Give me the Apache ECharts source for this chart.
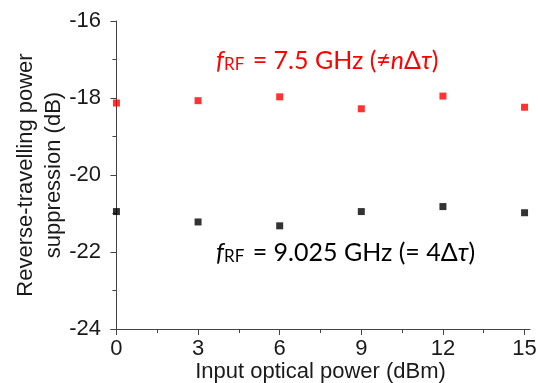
<!DOCTYPE html>
<html>
<head>
<meta charset="utf-8">
<script src="https://cdn.jsdelivr.net/npm/echarts@6/dist/echarts.min.js"></script>
<style>
  html, body { margin: 0; padding: 0; background: #fff; }
  #chart { width: 538px; height: 383px; }
</style>
</head>
<body>
<div id="chart"></div>
<script>
const inputPower = [0, 3, 6, 9, 12, 15]
const supp75 = [-18.13, -18.07, -17.97, -18.28, -17.95, -18.24]
const supp9025 = [-20.95, -21.22, -21.32, -20.95, -20.82, -20.98]
const xTicks = [0, 3, 6, 9, 12, 15]
const xMinorTicks = [1.5, 4.5, 7.5, 10.5, 13.5]

const axisColor = '#444'
const labelColor = '#1a1a1a'
const labelFont = 'Liberation Sans, Arial, sans-serif'
const annoFont = 'Lato, Open Sans, sans-serif'

const chart = echarts.init(document.getElementById('chart'))

const annoRich = (fill) => ({
  t: { fontFamily: annoFont, fontSize: 25, fill },
  f: { fontFamily: annoFont, fontSize: 25, fontStyle: 'italic', fill },
  sub: { fontFamily: annoFont, fontSize: 17, fill, padding: [9, 2, 0, 0] },
  i: { fontFamily: annoFont, fontSize: 25, fontStyle: 'italic', fill },
})

chart.setOption({
  animation: false,
  grid: { left: 111, right: 8, top: 21, bottom: 54, outerBoundsMode: 'none' },
  xAxis: [
    {
      type: 'value',
      min: -0.2,
      max: 15.2,
      splitLine: { show: false },
      axisLine: { lineStyle: { color: axisColor, width: 1 } },
      axisTick: { customValues: xTicks, length: 6, lineStyle: { color: axisColor } },
      axisLabel: {
        customValues: xTicks,
        color: labelColor,
        fontSize: 22,
        fontFamily: labelFont,
        margin: 9,
      },
      name: 'Input optical power (dBm)',
      nameLocation: 'middle',
      nameGap: 32,
      nameMoveOverlap: false,
      nameTextStyle: { color: labelColor, fontSize: 22, fontFamily: labelFont },
    },
    {
      type: 'value',
      position: 'bottom',
      min: -0.2,
      max: 15.2,
      splitLine: { show: false },
      axisLine: { show: false },
      axisTick: { customValues: xMinorTicks, length: 4, lineStyle: { color: axisColor } },
      axisLabel: { show: false },
    },
  ],
  yAxis: {
    type: 'value',
    min: -24,
    max: -16,
    interval: 2,
    splitLine: { show: false },
    axisLine: { show: true, lineStyle: { color: axisColor, width: 1 } },
    axisTick: { show: true, length: 6, lineStyle: { color: axisColor } },
    minorTick: { show: true, splitNumber: 2, length: 4, lineStyle: { color: axisColor } },
    axisLabel: { color: labelColor, fontSize: 22, fontFamily: labelFont, margin: 10 },
    name: 'Reverse-travelling power\nsuppression (dB)',
    nameLocation: 'middle',
    nameGap: 43,
    nameMoveOverlap: false,
    nameTextStyle: { color: labelColor, fontSize: 22, fontFamily: labelFont, lineHeight: 28 },
  },
  series: [
    {
      name: '7.5 GHz',
      type: 'scatter',
      symbol: 'rect',
      symbolSize: 7,
      itemStyle: { color: '#ff0000' },
      data: inputPower.map((x, i) => [x, supp75[i]]),
    },
    {
      name: '9.025 GHz',
      type: 'scatter',
      symbol: 'rect',
      symbolSize: 7,
      itemStyle: { color: '#000' },
      data: inputPower.map((x, i) => [x, supp9025[i]]),
    },
  ],
  graphic: [
    {
      type: 'text',
      left: 216,
      top: 48,
      style: {
        text: '{f|f}{sub|RF}{t| = 7.5 GHz (≠}{i|n}{t|Δ}{i|τ}{t|)}',
        rich: annoRich('#ff0000'),
      },
    },
    {
      type: 'text',
      left: 216,
      top: 240,
      style: {
        text: '{f|f}{sub|RF}{t| = 9.025 GHz (= 4Δ}{i|τ}{t|)}',
        rich: annoRich('#000'),
      },
    },
  ],
})
</script>
</body>
</html>
